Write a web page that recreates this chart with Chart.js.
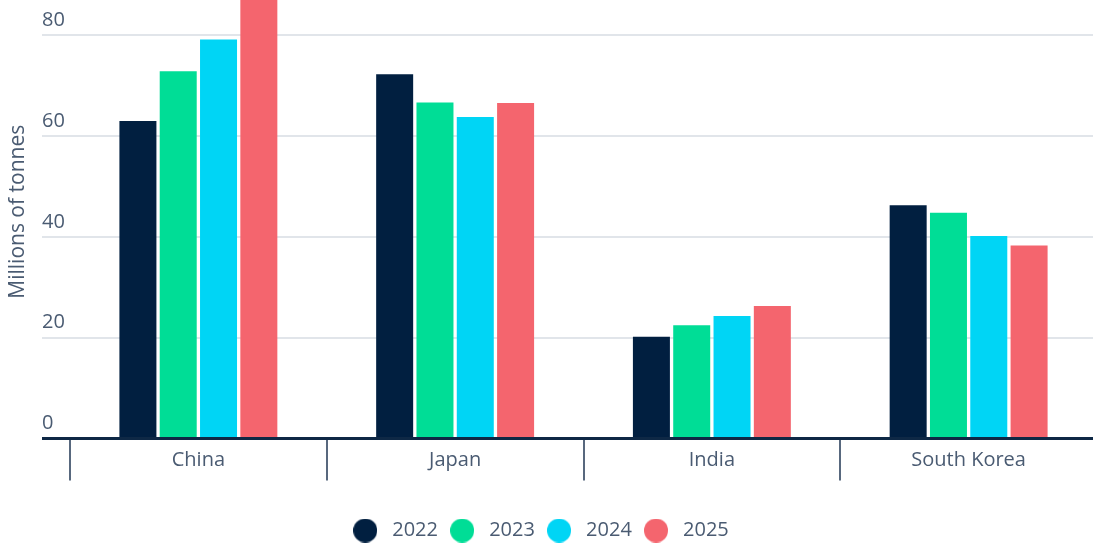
<!DOCTYPE html>
<html lang="en">
<head>
  <meta charset="UTF-8" />
  <title>Imports by country</title>
  <style>
    body { margin: 0; background: #fff; overflow: hidden; }
    /* the plot runs a little past the top and right edges of the page */
    #wrap { width: 1117px; height: 566px; position: absolute; left: -20px; top: -15px; }
  </style>
</head>
<body>
  <div id="wrap"><canvas id="chart"></canvas></div>

  <script src="https://cdn.jsdelivr.net/npm/chart.js"></script>
  <script>
    const categories = ['China', 'Japan', 'India', 'South Korea'];
    const years = ['2022', '2023', '2024', '2025'];
    const v2022 = [63.0, 72.3, 20.2, 46.3];
    const v2023 = [72.9, 66.7, 22.5, 44.8];
    const v2024 = [79.2, 63.8, 24.3, 40.2];
    const v2025 = [88.0, 66.6, 26.3, 38.3];
    const yTicks = [0, 20, 40, 60, 80];

    const colors = ['#011f40', '#00dd96', '#00d5f5', '#f4656e'];
    const textColor = '#4a5b72';
    const font = { family: 'Open Sans', size: 20 };

    // round legend markers
    function dot(color) {
      const c = document.createElement('canvas');
      c.width = 24; c.height = 24;
      const g = c.getContext('2d');
      g.fillStyle = color;
      g.beginPath();
      g.arc(12, 12, 12, 0, Math.PI * 2);
      g.fill();
      return c;
    }
    const dots = colors.map(dot);
    const series = [v2022, v2023, v2024, v2025];

    new Chart(document.getElementById('chart'), {
      type: 'bar',
      data: {
        labels: categories,
        datasets: years.map((y, i) => ({
          label: y,
          data: series[i],
          backgroundColor: colors[i],
          categoryPercentage: 0.628,
          barPercentage: 0.918
        }))
      },
      options: {
        responsive: true,
        maintainAspectRatio: false,
        animation: false,
        layout: { padding: { bottom: 0.5 } },
        scales: {
          x: {
            z: 1,
            grid: {
              offset: true,
              drawOnChartArea: false,
              tickLength: 42,
              color: '#58687e',
              lineWidth: 2
            },
            border: { display: true, color: '#0e2845', width: 3 },
            ticks: { color: textColor, font, padding: -32 },
            afterFit: s => { s.height += 72.8; }
          },
          y: {
            min: 0,
            max: 90,
            afterBuildTicks: s => { s.ticks = yTicks.map(v => ({ value: v })); },
            grid: {
              tickLength: 28,
              color: c => c.tick && c.tick.value === 0 ? '#0e2845' : '#e1e5ea',
              lineWidth: c => c.tick && c.tick.value === 0 ? 3 : 2
            },
            border: { display: false },
            ticks: {
              mirror: true,
              padding: -28,
              labelOffset: -15,
              color: textColor,
              font
            },
            title: {
              display: true,
              text: 'Millions of tonnes',
              color: textColor,
              font: { family: 'Open Sans', size: 21 },
              padding: { top: 25.9, bottom: 66.9 }
            }
          }
        },
        plugins: {
          tooltip: { enabled: false },
          legend: {
            position: 'bottom',
            labels: {
              usePointStyle: true,
              pointStyleWidth: 34,
              boxHeight: 20,
              padding: 7.2,
              color: textColor,
              font,
              generateLabels: chart =>
                Chart.defaults.plugins.legend.labels.generateLabels(chart)
                  .map((item, i) => ({ ...item, pointStyle: dots[i] }))
            }
          }
        }
      }
    });
  </script>
</body>
</html>
